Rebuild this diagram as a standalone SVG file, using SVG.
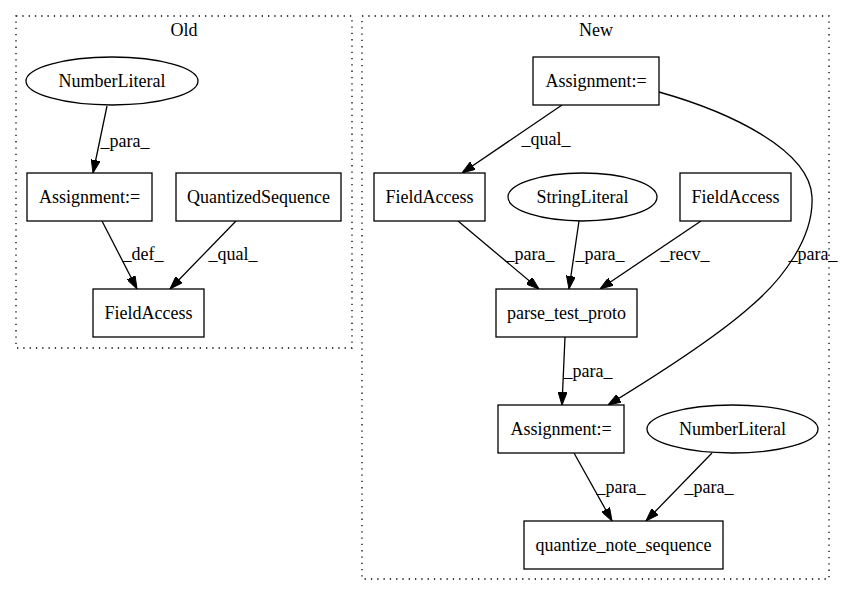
<svg xmlns="http://www.w3.org/2000/svg" width="845" height="596" viewBox="0 0 845 596">
<style>
text{font-family:"Liberation Serif","Times New Roman",serif;font-size:18px;fill:#000;text-anchor:middle}
.node rect,.node ellipse{fill:#fff;stroke:#000;stroke-width:1.3}
.cluster{fill:none;stroke:#000;stroke-width:1.3;stroke-dasharray:1.3,5}
.edges path{fill:none;stroke:#000;stroke-width:1.3;marker-end:url(#arr)}
</style>
<defs>
<marker id="arr" viewBox="0 0 13 9" refX="13" refY="4.5" markerWidth="13" markerHeight="9" markerUnits="userSpaceOnUse" orient="auto">
<path d="M0,0 L13,4.5 L0,9 Z" fill="#000" stroke="#000" stroke-width="1"/>
</marker>
</defs>
<rect width="845" height="596" fill="#fff"/>
<g id="cluster_old">
<rect class="cluster" x="16" y="16" width="336" height="332"/>
<text x="184" y="36">Old</text>
</g>
<g id="cluster_new">
<rect class="cluster" x="362" y="16" width="467" height="563"/>
<text x="596" y="36">New</text>
</g>
<g class="edges" id="edges">
<path d="M107,106 L93,173"/>
<path d="M102,221 L137,289"/>
<path d="M236,221 L170,289"/>
<path d="M562,105 L462,173"/>
<path d="M659,92 C730,112 810,150 812,197 C814,238 782,280 750,307 C715,338 662,372 608,405"/>
<path d="M458,221 L539,289"/>
<path d="M579,221 L569,289"/>
<path d="M701,221 L600,289"/>
<path d="M565,337 L562,405"/>
<path d="M574,453 L612,521"/>
<path d="M712,453 L646,521"/>
</g>
<g id="edge_labels">
<text x="125" y="147">_para_</text>
<text x="143" y="260">_def_</text>
<text x="233" y="260">_qual_</text>
<text x="546" y="145">_qual_</text>
<text x="813" y="260">_para_</text>
<text x="530" y="260">_para_</text>
<text x="600" y="260">_para_</text>
<text x="685" y="260">_recv_</text>
<text x="588" y="377">_para_</text>
<text x="621" y="493">_para_</text>
<text x="709" y="493">_para_</text>
</g>
<g class="node" id="old_numberliteral">
<ellipse cx="112" cy="81" rx="86" ry="24"/>
<text x="112" y="87">NumberLiteral</text>
</g>
<g class="node" id="old_assignment">
<rect x="27" y="173" width="125" height="48"/>
<text x="89.5" y="203">Assignment:=</text>
</g>
<g class="node" id="old_quantizedsequence">
<rect x="176" y="173" width="165" height="48"/>
<text x="258.5" y="203">QuantizedSequence</text>
</g>
<g class="node" id="old_fieldaccess">
<rect x="93" y="289" width="111" height="48"/>
<text x="148.5" y="319">FieldAccess</text>
</g>
<g class="node" id="new_assignment_top">
<rect x="533" y="57" width="126" height="48"/>
<text x="596" y="87">Assignment:=</text>
</g>
<g class="node" id="new_fieldaccess_left">
<rect x="374" y="173" width="111" height="48"/>
<text x="429.5" y="203">FieldAccess</text>
</g>
<g class="node" id="new_stringliteral">
<ellipse cx="582.5" cy="197" rx="74.5" ry="24"/>
<text x="582.5" y="203">StringLiteral</text>
</g>
<g class="node" id="new_fieldaccess_right">
<rect x="680" y="173" width="111" height="48"/>
<text x="735.5" y="203">FieldAccess</text>
</g>
<g class="node" id="new_parse_test_proto">
<rect x="496" y="289" width="141" height="48"/>
<text x="566.5" y="319">parse_test_proto</text>
</g>
<g class="node" id="new_assignment_bottom">
<rect x="498" y="405" width="126" height="48"/>
<text x="561" y="435">Assignment:=</text>
</g>
<g class="node" id="new_numberliteral">
<ellipse cx="732.5" cy="429" rx="85.5" ry="24"/>
<text x="732.5" y="435">NumberLiteral</text>
</g>
<g class="node" id="new_quantize_note_sequence">
<rect x="524" y="521" width="199" height="48"/>
<text x="623.5" y="551">quantize_note_sequence</text>
</g>
</svg>
